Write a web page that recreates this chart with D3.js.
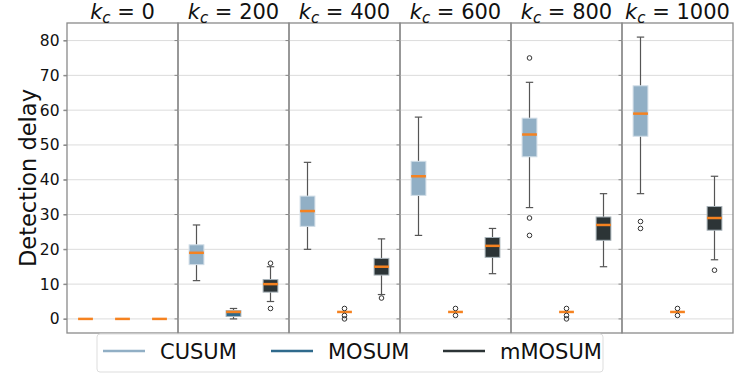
<!DOCTYPE html>
<html lang="en">
<head>
  <meta charset="UTF-8">
  <title>Detection delay</title>
  <script src="https://cdn.jsdelivr.net/npm/d3@7.6.1/dist/d3.min.js"></script>
  <style>
    body { margin: 0; background: #fff; }
    svg { display: block; font-family: "DejaVu Sans", sans-serif; }
  </style>
</head>
<body>
  <div id="box"></div>
  <script>
    const width = 748
    const height = 383
    const margin = { left: 67, right: 15, top: 23, bottom: 50 }

    const kcValues = [0, 200, 400, 600, 800, 1000]
    const methods = ['CUSUM', 'MOSUM', 'mMOSUM']
    const colors = ['#91afc5', '#2f6a8c', '#2c3436']
    const yTicks = [0, 10, 20, 30, 40, 50, 60, 70, 80]

    // box stats per kc, one array per method
    const cusumLow = [0, 11, 20, 24, 32, 36]
    const cusumQ1 = [0, 15.6, 26.6, 35.5, 46.6, 52.5]
    const cusumMed = [0, 19, 31, 41, 53, 59]
    const cusumQ3 = [0, 21.3, 35.3, 45.3, 57.7, 67]
    const cusumHigh = [0, 27, 45, 58, 68, 81]
    const cusumOut = [[], [], [], [], [75, 29, 24], [28, 26]]

    const mosumLow = [0, 0, 2, 2, 2, 2]
    const mosumQ1 = [0, 0.7, 2, 2, 2, 2]
    const mosumMed = [0, 2, 2, 2, 2, 2]
    const mosumQ3 = [0, 2.4, 2, 2, 2, 2]
    const mosumHigh = [0, 3, 2, 2, 2, 2]
    const mosumOut = [[], [], [3, 1, 0], [3, 1], [3, 1, 0], [3, 1]]

    const mmosumLow = [0, 5, 7, 13, 15, 17]
    const mmosumQ1 = [0, 7.7, 12.6, 17.7, 22.6, 25.5]
    const mmosumMed = [0, 10, 15, 21, 27, 29]
    const mmosumQ3 = [0, 11.3, 17.4, 23.4, 29.3, 32.3]
    const mmosumHigh = [0, 15, 23, 26, 36, 41]
    const mmosumOut = [[], [16, 3], [6], [], [], [14]]

    const stats = [
      [cusumLow, cusumQ1, cusumMed, cusumQ3, cusumHigh, cusumOut],
      [mosumLow, mosumQ1, mosumMed, mosumQ3, mosumHigh, mosumOut],
      [mmosumLow, mmosumQ1, mmosumMed, mmosumQ3, mmosumHigh, mmosumOut]
    ]

    const svg = d3.select('#box').append('svg')
      .attr('width', width)
      .attr('height', height)

    const plotBottom = height - margin.bottom
    const panelScale = d3.scaleBand().domain(kcValues).range([margin.left, width - margin.right]).padding(0)
    const yScale = d3.scaleLinear().domain([-4.05, 85.05]).range([plotBottom, margin.top])
    const xInner = d3.scaleLinear().domain([0.5, 3.5]).range([0, panelScale.bandwidth()])
    const boxW = xInner(1.4) - xInner(1)

    kcValues.forEach((kc, p) => {
      const g = svg.append('g').attr('transform', `translate(${panelScale(kc)},0)`)

      // grid
      g.selectAll('.grid').data(yTicks).join('line')
        .attr('x1', 0).attr('x2', panelScale.bandwidth())
        .attr('y1', d => yScale(d)).attr('y2', d => yScale(d))
        .attr('stroke', '#dcdcdc').attr('stroke-width', 1)

      // small outward ticks on left spine
      g.selectAll('.tk').data(yTicks).join('line')
        .attr('x1', -3.5).attr('x2', 0)
        .attr('y1', d => yScale(d)).attr('y2', d => yScale(d))
        .attr('stroke', '#888').attr('stroke-width', 1)

      methods.forEach((m, i) => {
        const [low, q1, med, q3, high, out] = stats[i]
        const cx = xInner(i + 1)
        const b = g.append('g')
        b.append('line')
          .attr('x1', cx).attr('x2', cx)
          .attr('y1', yScale(high[p])).attr('y2', yScale(q3[p]))
          .attr('stroke', '#555').attr('stroke-width', 1.2)
        b.append('line')
          .attr('x1', cx).attr('x2', cx)
          .attr('y1', yScale(q1[p])).attr('y2', yScale(low[p]))
          .attr('stroke', '#555').attr('stroke-width', 1.2)
        b.selectAll('.cap').data([low[p], high[p]]).join('line')
          .attr('x1', cx - boxW / 4).attr('x2', cx + boxW / 4)
          .attr('y1', d => yScale(d)).attr('y2', d => yScale(d))
          .attr('stroke', '#555').attr('stroke-width', 1.2)
        b.append('rect')
          .attr('x', cx - boxW / 2).attr('width', boxW)
          .attr('y', yScale(q3[p])).attr('height', yScale(q1[p]) - yScale(q3[p]))
          .attr('fill', colors[i])
          .attr('stroke', i === 0 ? '#d0dde7' : '#a9b4ba').attr('stroke-width', 1)
        b.append('line')
          .attr('x1', cx - boxW / 2).attr('x2', cx + boxW / 2)
          .attr('y1', yScale(med[p])).attr('y2', yScale(med[p]))
          .attr('stroke', '#f58220').attr('stroke-width', 2.5)
        b.selectAll('.out').data(out[p]).join('circle')
          .attr('cx', cx).attr('cy', d => yScale(d)).attr('r', 2.3)
          .attr('fill', 'none').attr('stroke', '#333').attr('stroke-width', 1)
      })

      // panel frame
      g.append('rect')
        .attr('x', 0).attr('y', margin.top)
        .attr('width', panelScale.bandwidth()).attr('height', plotBottom - margin.top)
        .attr('fill', 'none').attr('stroke', '#8a8a8a').attr('stroke-width', 1.3)

      // title
      const t = g.append('text')
        .attr('x', panelScale.bandwidth() / 2).attr('y', 19)
        .attr('text-anchor', 'middle').attr('font-size', 21).attr('fill', '#111')
      t.append('tspan').attr('font-style', 'italic').text('k')
      t.append('tspan').attr('font-style', 'italic').attr('font-size', 15).attr('dy', 4).text('c')
      t.append('tspan').attr('dy', -4).text(` = ${kc}`)
    })

    // y axis labels (first panel only)
    const yAxis = d3.axisLeft(yScale).tickValues(yTicks).tickSize(3.5).tickPadding(4)
    svg.append('g')
      .attr('transform', `translate(${margin.left},0)`)
      .call(yAxis)
      .call(g => g.select('.domain').remove())
      .call(g => g.selectAll('line').attr('stroke', '#888'))
      .call(g => g.selectAll('text').attr('font-size', 15.5).attr('fill', '#111')
        .attr('font-family', '"DejaVu Sans", sans-serif'))

    svg.append('text')
      .attr('transform', `translate(36,${(margin.top + plotBottom) / 2}) rotate(-90)`)
      .attr('text-anchor', 'middle')
      .attr('font-size', 22.5).attr('fill', '#111')
      .text('Detection delay')

    // legend
    const legend = svg.append('g')
    legend.append('rect')
      .attr('x', 97).attr('y', 334).attr('width', 506).attr('height', 38).attr('rx', 3)
      .attr('fill', '#fff').attr('stroke', '#ddd').attr('stroke-width', 1)
    const legendPos = [103, 271, 443]
    methods.forEach((m, i) => {
      legend.append('line')
        .attr('x1', legendPos[i]).attr('x2', legendPos[i] + 42)
        .attr('y1', 351).attr('y2', 351)
        .attr('stroke', colors[i]).attr('stroke-width', 2.5)
      legend.append('text')
        .attr('x', legendPos[i] + 57).attr('y', 359)
        .attr('font-size', 21).attr('fill', '#111')
        .text(m)
    })
  </script>
</body>
</html>
